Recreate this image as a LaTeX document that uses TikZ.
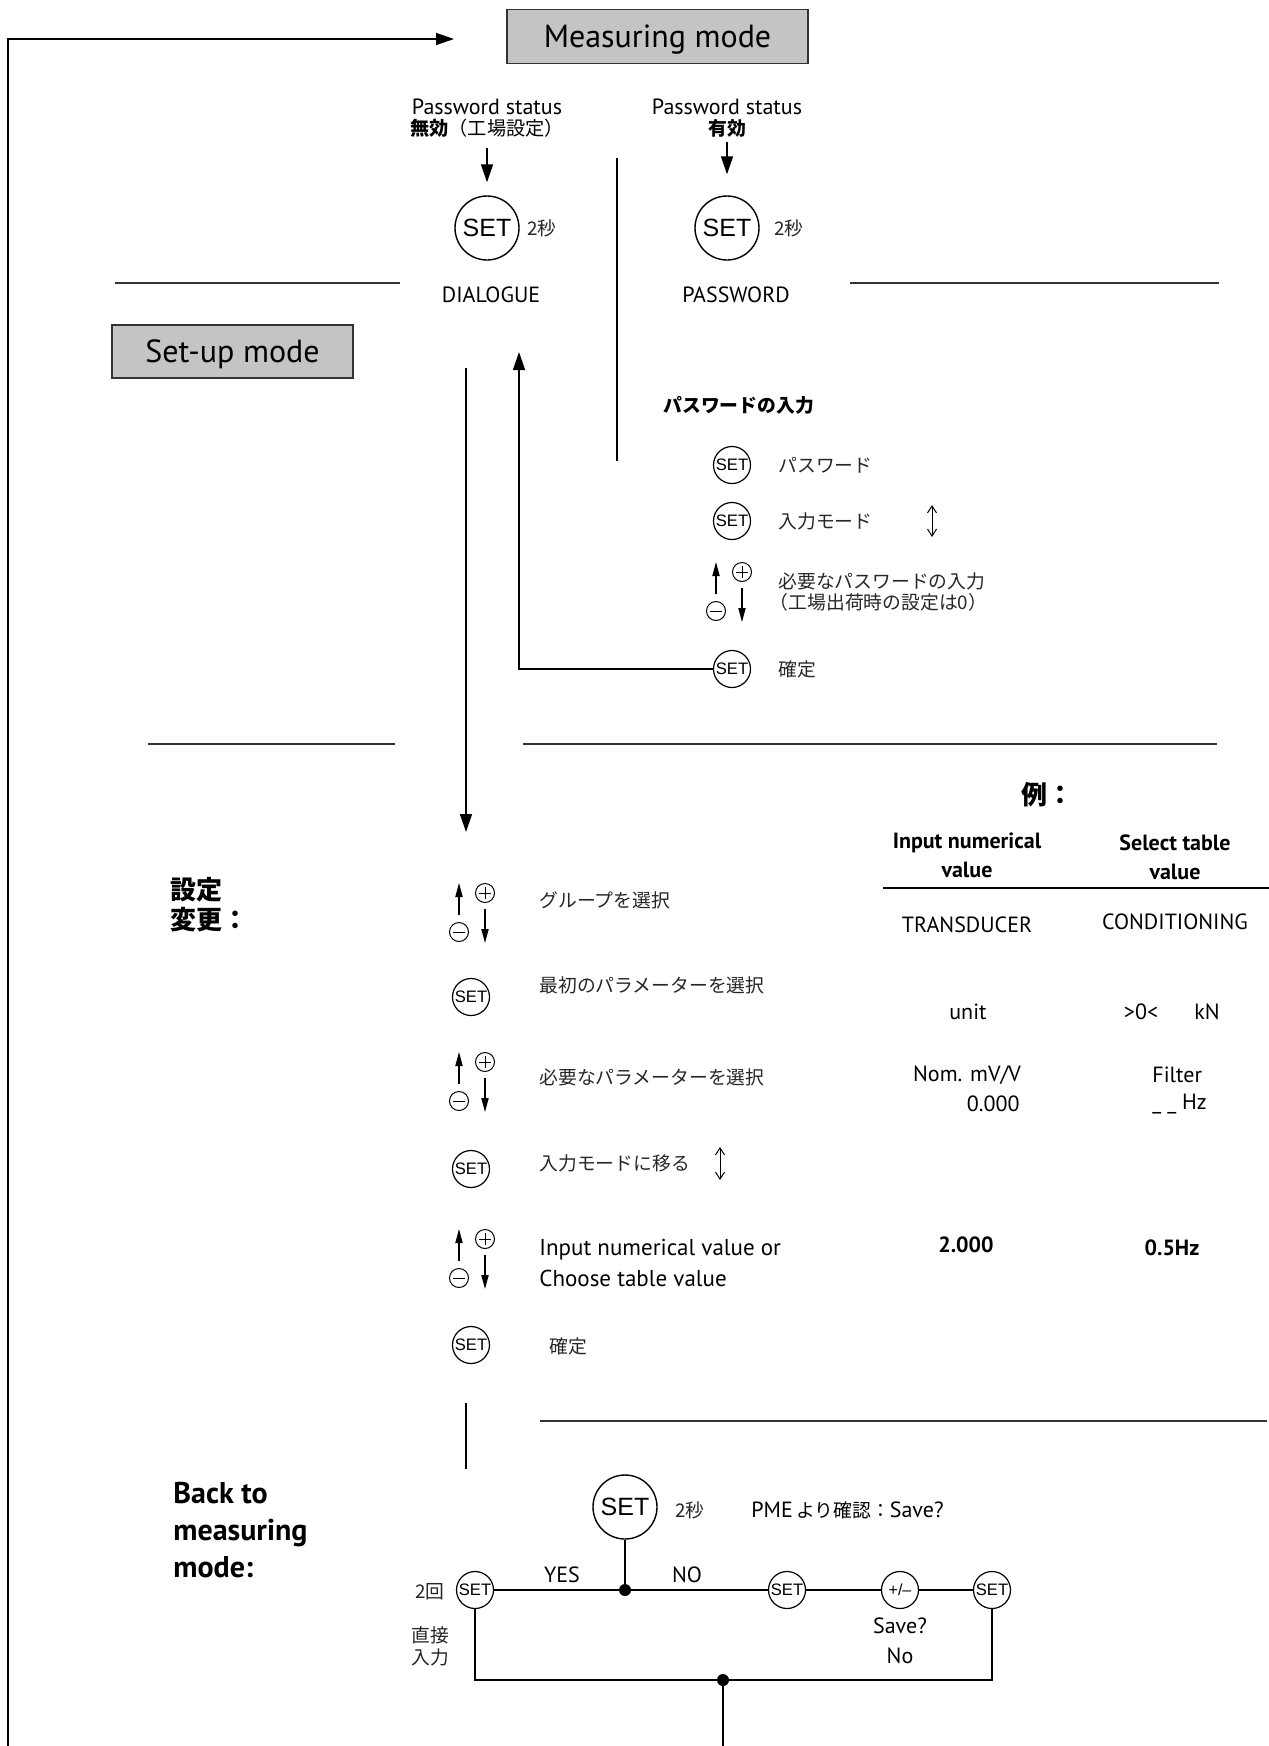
\documentclass[tikz,border=0pt]{standalone}
\usepackage{fontspec}
\setmainfont{PT Sans}
\newfontfamily\jp{Noto Sans CJK JP}
\newfontfamily\ar{Liberation Sans}
\usetikzlibrary{arrows.meta}
\tikzset{
  every node/.style={inner sep=0pt},
  modebox/.style={draw=black!80, fill=black!23, line width=0.6pt, minimum width=150.5pt, minimum height=27pt, font=\fontsize{16}{16}\selectfont, text height=11.3pt, text depth=0pt},
  bigset/.style={circle, draw, line width=0.7pt, minimum size=32pt, font=\ar\fontsize{12.5}{12.5}\selectfont},
  smset/.style={circle, draw, line width=0.6pt, minimum size=18.5pt, font=\ar\fontsize{8.3}{8.3}\selectfont},
  pmc/.style={circle, draw, line width=0.5pt, minimum size=9.5pt},
  plus/.style={path picture={\draw[line width=0.5pt] ([xshift=1.8pt]path picture bounding box.west) -- ([xshift=-1.8pt]path picture bounding box.east) ([yshift=-1.8pt]path picture bounding box.north) -- ([yshift=1.8pt]path picture bounding box.south);}},
  minus/.style={path picture={\draw[line width=0.5pt] ([xshift=1.8pt]path picture bounding box.west) -- ([xshift=-1.8pt]path picture bounding box.east);}},
  flow/.style={line width=0.7pt},
  bigarrow/.style={line width=0.7pt, -{Triangle[length=9pt,width=6pt]}},
  smarrow/.style={line width=0.6pt, -{Triangle[length=7pt,width=3.6pt]}},
  dblarrow/.style={line width=0.5pt, {Straight Barb[length=3.5pt,width=4.5pt]}-{Straight Barb[length=3.5pt,width=4.5pt]}},
  sep/.style={line width=0.9pt, draw=black!80},
  lt/.style={font=\fontsize{11}{14}\selectfont},
  ls/.style={font=\fontsize{11}{12}\selectfont},
  jt/.style={font=\jp\fontsize{9.4}{10.5}\selectfont, text=black!85},
  jts/.style={font=\jp\fontsize{9.6}{10.5}\selectfont},
  jb/.style={font=\jp\bfseries\fontsize{9.4}{10.5}\selectfont},
  hb/.style={font=\bfseries\fontsize{11}{14.5}\selectfont, align=center},
  dot/.style={circle, fill, minimum size=6pt},
  pics/updown/.style={code={
    \node[pmc, plus] (-p) at (26,0) {};
    \node[pmc, minus] (-m) at (0,39) {};
    \draw[smarrow] (0,22) -- (0,-10);
    \draw[smarrow] (26,16) -- (26,50);
  }}
}
\begin{document}
\begin{tikzpicture}[x=0.5pt, y=-0.5pt]
\useasboundingbox (0,0) rectangle (1269,1746);

% ---- top: measuring mode and loop
\node[modebox] (meas) at (657.5,36.5) {Measuring mode};
\coordinate (loopbot) at (8,1746);
\coordinate (looptip) at (454,39);
\draw[bigarrow] (loopbot) |- (looptip);

% ---- password status
\node[ls] (ps1) at (487,107) {Password status};
\node[jts] (ps1b) at (487,128) {{\bfseries 無効}（工場設定）};
\node[ls] (ps2) at (727,107) {Password status};
\node[jb] (ps2b) at (727,128) {有効};

\node[bigset] (set1) at (487,228) {SET};
\node[jt] (s1t) at (542,228) {2秒};
\node[bigset] (set2) at (727,228) {SET};
\node[jt] (s2t) at (789,228) {2秒};
\draw[bigarrow, shorten <=5pt, shorten >=6.5pt] (ps1b) -- (set1);
\draw[bigarrow, shorten <=2.5pt, shorten >=10.5pt] (ps2b) -- (set2);

\node[lt] (dlg) at (491,295) {DIALOGUE};
\node[lt] (pwd) at (736,295) {PASSWORD};

\coordinate (sa1) at (115,283); \coordinate (sa2) at (400,283);
\coordinate (sb1) at (850,283); \coordinate (sb2) at (1219,283);
\draw[sep] (sa1) -- (sa2);
\draw[sep] (sb1) -- (sb2);

\coordinate (dv1) at (617,158); \coordinate (dv2) at (617,461);
\draw[flow] (dv1) -- (dv2);

\node[modebox, minimum width=120.5pt, minimum height=26.5pt] (setup) at (232.5,351.5) {Set-up mode};

% ---- password entry
\node[jb, anchor=west] (pwtitle) at (663,405) {パスワードの入力};
\node[smset] (p1) at (732,465) {SET};
\node[jt, anchor=west] (p1t) at (778,465) {パスワード};
\node[smset] (p2) at (732,521) {SET};
\node[jt, anchor=west] (p2t) at (778,521) {入力モード};
\coordinate (da1) at (932,505); \coordinate (da2) at (932,537);
\draw[dblarrow] (da1) -- (da2);
\pic (pg) at (716,572) {updown};
\node[jt, anchor=west, align=left] (p3t) at (778,592.5) {必要なパスワードの入力\\\hspace*{-0.45em}（工場出荷時の設定は0）};
\node[smset] (pok) at (732,669) {SET};
\node[jt, anchor=west] (pokt) at (778,669) {確定};

\coordinate (uptip) at (519,352);
\draw[bigarrow] (pok.west) -| (uptip);
\coordinate (dn1) at (466,368); \coordinate (dn2) at (466,832);
\draw[bigarrow] (dn1) -- (dn2);

\coordinate (sc1) at (148,744); \coordinate (sc2) at (395,744);
\coordinate (sd1) at (523,744); \coordinate (sd2) at (1217,744);
\draw[sep] (sc1) -- (sc2);
\draw[sep] (sd1) -- (sd2);

% ---- settings change
\node[font=\jp\bfseries\fontsize{13}{15}\selectfont, anchor=west, align=left] (chg) at (170,905) {設定\\変更：};

\pic (g1) at (459,893) {updown};
\node[jt, anchor=west] (g1t) at (539,900) {グループを選択};
\node[smset] (c1) at (471,997) {SET};
\node[jt, anchor=west] (c1t) at (539,985) {最初のパラメーターを選択};
\pic (g2) at (459,1062) {updown};
\node[jt, anchor=west] (g2t) at (539,1077) {必要なパラメーターを選択};
\node[smset] (c2) at (471,1169) {SET};
\node[jt, anchor=west] (c2t) at (539,1163) {入力モードに移る};
\coordinate (db1) at (720,1147); \coordinate (db2) at (720,1180);
\draw[dblarrow] (db1) -- (db2);
\pic (g3) at (459,1239) {updown};
\node[anchor=west, align=left, font=\fontsize{11.5}{15.5}\selectfont] (g3t) at (539,1262.5) {Input numerical value or\\Choose table value};
\node[smset] (c3) at (471,1345) {SET};
\node[jt, anchor=west] (c3t) at (549,1346) {確定};

% ---- example table
\node[font=\jp\bfseries\fontsize{13}{13}\selectfont] (ex) at (1047,795) {例：};
\node[hb] (h1) at (967,855) {Input numerical\\value};
\node[hb] (h2) at (1175,857) {Select table\\value};
\coordinate (tl1) at (883,888); \coordinate (tl2) at (1269,888);
\draw[line width=0.7pt] (tl1) -- (tl2);
\node[lt] (r1a) at (967,925) {TRANSDUCER};
\node[lt] (r1b) at (1175,922) {CONDITIONING};
\node[lt] (r2a) at (968,1012) {unit};
\node[lt] (r2b) at (1141,1012) {>0<};
\node[lt] (r2c) at (1207,1012) {kN};
\node[lt] (r3a) at (967,1075) {Nom. mV/V};
\node[lt, anchor=east] (r3b) at (1020,1104) {0.000};
\node[lt, anchor=west] (r3c) at (1152,1075) {Filter};
\node[lt, anchor=west] (r3d) at (1152,1104) {\_ \_ Hz};
\node[lt, font=\bfseries\fontsize{11}{14}\selectfont] (r4a) at (966,1245) {2.000};
\node[lt, font=\bfseries\fontsize{11}{14}\selectfont] (r4b) at (1172,1248) {0.5Hz};

% ---- back to measuring mode
\coordinate (sv1) at (466,1403); \coordinate (sv2) at (466,1469);
\draw[flow] (sv1) -- (sv2);
\coordinate (se1) at (540,1421); \coordinate (se2) at (1267,1421);
\draw[sep] (se1) -- (se2);

\node[font=\bfseries\fontsize{15}{18.5}\selectfont, anchor=west, align=left] (back) at (173,1530) {Back to\\measuring\\mode:};

\node[bigset] (bset) at (625,1507) {SET};
\node[jt] (bst) at (690,1510) {2秒};
\node[anchor=west] (pme) at (751,1510) {{\fontsize{11}{11}\selectfont PME}\,{\jp\fontsize{9.4}{9.4}\selectfont より確認：}{\fontsize{11}{11}\selectfont Save?}};

\node[dot] (j1) at (625,1590) {};
\node[smset] (bl) at (475,1590) {SET};
\node[smset] (bn) at (787,1590) {SET};
\node[smset, font=\ar\fontsize{8}{8}\selectfont] (bpm) at (900,1590) {+/–};
\node[smset] (br) at (992,1590) {SET};
\draw[flow] (bset) -- (j1);
\draw[flow] (bl) -- (j1) -- (bn);
\draw[flow] (bn) -- (bpm);
\draw[flow] (bpm) -- (br);

\node[lt] (yes) at (562,1575) {YES};
\node[lt] (no) at (687,1575) {NO};
\node[jt] (twice) at (430,1592) {2回};
\node[jt, align=center, font=\jp\fontsize{9.4}{11}\selectfont] (direct) at (430,1646) {直接\\入力};
\node[lt, align=center, font=\fontsize{11}{15}\selectfont] (saveno) at (900,1641) {Save?\\No};

\node[dot] (j2) at (723,1680) {};
\draw[flow] (bl.south) |- (j2) -| (br.south);
\coordinate (bend) at (723,1746);
\draw[flow] (j2) -- (bend);
\end{tikzpicture}
\end{document}
